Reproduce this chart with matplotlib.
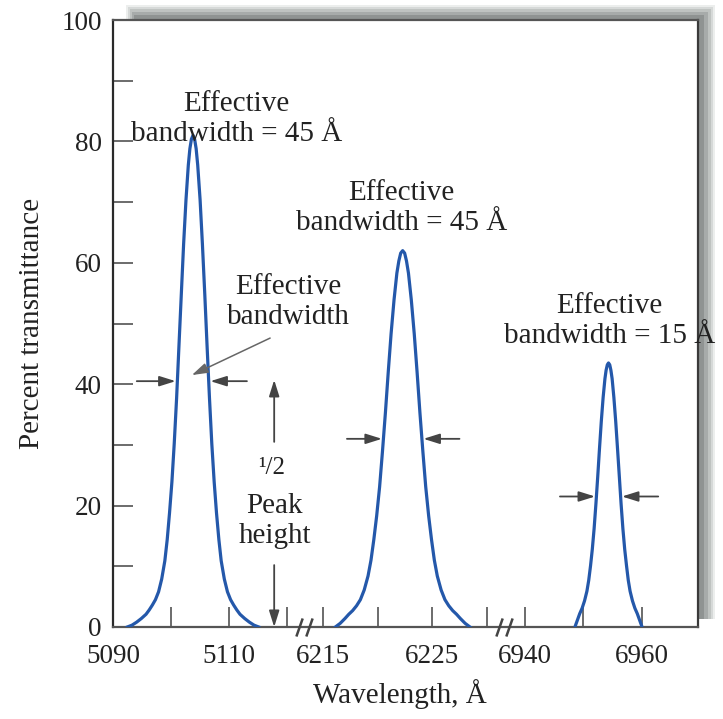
import matplotlib
matplotlib.use("Agg")
import matplotlib.pyplot as plt
import numpy as np
from matplotlib.patches import Rectangle
from matplotlib.path import Path
from matplotlib.ticker import FixedLocator

plt.rcParams['font.family'] = ['Liberation Serif', 'DejaVu Serif']

# --- data (wavelength in A, percent transmittance) ---
peak1_wl = [5092.46, 5093.27, 5094.08, 5094.89, 5095.70, 5096.24, 5096.78, 5097.32,
            5097.86, 5098.40, 5098.94, 5099.35, 5099.75, 5100.16, 5100.56, 5100.97,
            5101.37, 5101.78, 5102.18, 5102.59, 5102.99, 5103.26, 5103.53,
            5103.80,
            5104.07, 5104.34, 5104.61, 5105.02, 5105.42, 5105.83, 5106.23, 5106.64,
            5107.04, 5107.45, 5107.85, 5108.26, 5108.66, 5109.20, 5109.74, 5110.28,
            5110.82, 5111.36, 5111.90, 5112.71, 5113.52, 5114.33, 5115.14]
peak1_t = [0, 0.3, 0.8, 1.4, 2.1, 2.8, 3.6, 4.5, 5.8, 7.9, 10.9, 14.4, 18.8, 23.9, 30.2, 37.7,
           46.2, 54.8, 63.1, 70.4, 76.1, 78.8, 80.4,
           81.0,
           80.4, 78.8, 76.1, 70.4, 63.1, 54.8, 46.2, 37.7, 30.2, 23.9, 18.8, 14.4, 10.9, 7.9,
           5.8, 4.5, 3.6, 2.8, 2.1, 1.4, 0.8, 0.3, 0]

peak2_wl = [6216.14, 6216.58, 6217.02, 6217.37, 6217.72, 6218.08, 6218.43, 6218.78,
            6219.13, 6219.40, 6219.66, 6219.92, 6220.19, 6220.45, 6220.72, 6220.98,
            6221.24, 6221.51, 6221.77, 6221.95, 6222.12,
            6222.30,
            6222.48, 6222.65, 6222.83, 6223.09, 6223.36, 6223.62, 6223.88, 6224.15,
            6224.41, 6224.68, 6224.94, 6225.20, 6225.47, 6225.82, 6226.17, 6226.52,
            6226.88, 6227.23, 6227.58, 6228.02, 6228.46]
peak2_t = [0, 0.6, 1.4, 2.1, 2.7, 3.5, 4.5, 6.1, 8.4, 11.0, 14.4, 18.3, 23.1, 28.9, 35.3,
           42.0, 48.3, 53.9, 58.3, 60.3, 61.6,
           62.0,
           61.6, 60.3, 58.3, 53.9, 48.3, 42.0, 35.3, 28.9, 23.1, 18.3, 14.4, 11.0, 8.4, 6.1,
           4.5, 3.5, 2.7, 2.1, 1.4, 0.6, 0]

peak3_wl = [6948.56, 6948.97, 6949.38, 6949.79, 6950.20, 6950.61, 6950.92, 6951.23,
            6951.53, 6951.84, 6952.15, 6952.46, 6952.76, 6953.07, 6953.38, 6953.69,
            6953.89, 6954.10,
            6954.30,
            6954.51, 6954.71, 6954.92, 6955.22, 6955.53, 6955.84, 6956.15, 6956.45,
            6956.76, 6957.07, 6957.38, 6957.68, 6957.99, 6958.40, 6958.81, 6959.22,
            6959.63, 6960.04]
peak3_t = [0, 1.1, 2.2, 3.1, 4.3, 5.9, 7.7, 10.1, 12.8, 16.2, 20.3, 24.8, 29.4, 33.9, 37.8,
           40.9, 42.3, 43.2,
           43.5,
           43.2, 42.3, 40.9, 37.8, 33.9, 29.4, 24.8, 20.3, 16.2, 12.8, 10.1, 7.7, 5.9, 4.3,
           3.1, 2.2, 1.1, 0]

xtick_major = [5090, 5110, 6215, 6225, 6940, 6960]
xtick_minor = [5100, 5120, 6220, 6230, 6950]
ytick_major = [0, 20, 40, 60, 80, 100]
ytick_minor = [10, 30, 50, 70, 90]

# half-height markers: (level, left tail, left tip, right tail, right tip)
half_marks = [
    (40.5, 5094.1, 5100.8, 5113.1, 5106.8),
    (31.0, 6217.2, 6220.4, 6227.5, 6224.2),
    (21.5, 6946.0, 6952.0, 6962.8, 6956.6),
]

# broken x axis: piecewise linear scale (knots in pixel-like units)
W_KN = [4000, 5090, 5123.0, 6213.4, 6231.6, 6936.6, 6969.6, 8000]
U_KN = [-6209, 113, 304.4, 305.5, 504.4, 505.1, 698.2, 6726]


def fwd(w):
    return np.interp(w, W_KN, U_KN)


def inv(u):
    return np.interp(u, U_KN, W_KN)


W, H = 723, 719
fig = plt.figure(figsize=(W / 100, H / 100), dpi=100)
ax = fig.add_axes([113 / W, 1 - 627 / H, 585 / W, 607 / H])


def px_rect(x0, y0, x1, y1, color):
    r = Rectangle((x0 / W, 1 - y1 / H), (x1 - x0) / W, (y1 - y0) / H,
                  transform=fig.transFigure, facecolor=color, edgecolor='none', zorder=-5)
    fig.add_artist(r)


# drop shadow behind the frame
px_rect(126, 5, 715, 619, '#eceeed')
px_rect(128, 7, 713, 619, '#d6d9d8')
px_rect(130, 9, 711, 619, '#bfc3c1')
px_rect(132, 12, 708, 619, '#a7abaa')
px_rect(134, 15, 704, 619, '#8f9392')

ax.set_facecolor('white')
ax.set_xscale('function', functions=(fwd, inv))
ax.set_xlim(5090, 6969.6)
ax.set_ylim(0, 100)

curve_col = '#2458aa'
for wl, t in [(peak1_wl, peak1_t), (peak2_wl, peak2_t), (peak3_wl, peak3_t)]:
    ax.plot(wl, t, color=curve_col, lw=2.3, solid_joinstyle='round', zorder=3)

ax.xaxis.set_major_locator(FixedLocator(xtick_major))
ax.xaxis.set_minor_locator(FixedLocator(xtick_minor))
ax.set_xticklabels([str(v) for v in xtick_major])
ax.yaxis.set_major_locator(FixedLocator(ytick_major))
ax.yaxis.set_minor_locator(FixedLocator(ytick_minor))

tick_col = '#444444'
ax.tick_params(axis='both', which='both', direction='in', length=14.5, width=1.1,
               color=tick_col, labelsize=19.5, pad=8, labelcolor='#222222')
ax.tick_params(axis='x', which='major', pad=12)

for side, c in [('left', '#2a2a2a'), ('bottom', '#555555'), ('top', '#555555'), ('right', '#3a3a3a')]:
    ax.spines[side].set_color(c)
    ax.spines[side].set_linewidth(1.6)

ax.set_ylabel('Percent transmittance', fontsize=21, color='#222222')
ax.yaxis.set_label_coords(-0.117, 0.5)
ax.set_xlabel('Wavelength, Å', fontsize=21, color='#222222')
ax.xaxis.set_label_coords(0.49, -0.085)

# axis break marks
brk = Path([(-0.9, -1), (-0.2, 1), (0.2, -1), (0.9, 1)],
           [Path.MOVETO, Path.LINETO, Path.MOVETO, Path.LINETO])
for xb in [5123.0, 6231.6]:
    ax.plot([xb], [0], marker=brk, markersize=13, mew=1.8, color=tick_col,
            linestyle='none', clip_on=False, zorder=6)

txt = dict(fontsize=21, ha='center', va='center', color='#222222', linespacing=1.2)
ax.text(5111.3, 83.7, 'Effective\nbandwidth = 45 Å', **txt)
ax.text(6222.2, 69.0, 'Effective\nbandwidth = 45 Å', **txt)
ax.text(6954.5, 50.4, 'Effective\nbandwidth = 15 Å', **txt)
ax.text(5120.3, 53.6, 'Effective\nbandwidth', **txt)
ax.text(5117.4, 26.2, '¹/2', fontsize=18, ha='center', va='center', color='#222222')
ax.text(5117.9, 17.4, 'Peak\nheight', **txt)

arr = dict(arrowstyle='-|>,head_length=0.7,head_width=0.22', color=tick_col, lw=1.3,
           mutation_scale=14, shrinkA=0, shrinkB=0)
for lvl, l0, l1, r0, r1 in half_marks:
    ax.annotate('', xy=(l1, lvl), xytext=(l0, lvl), arrowprops=arr)
    ax.annotate('', xy=(r1, lvl), xytext=(r0, lvl), arrowprops=arr)

# pointer from the label to the half-height width
ax.annotate('', xy=(5103.6, 41.5), xytext=(5117.1, 47.6),
            arrowprops=dict(arr, color='#666666', lw=1.1))
# 1/2 peak height arrows
ax.annotate('', xy=(5117.8, 40.7), xytext=(5117.8, 30.5), arrowprops=arr)
ax.annotate('', xy=(5117.8, 0), xytext=(5117.8, 10.2), arrowprops=arr)

fig.savefig('out.png', dpi=100)
